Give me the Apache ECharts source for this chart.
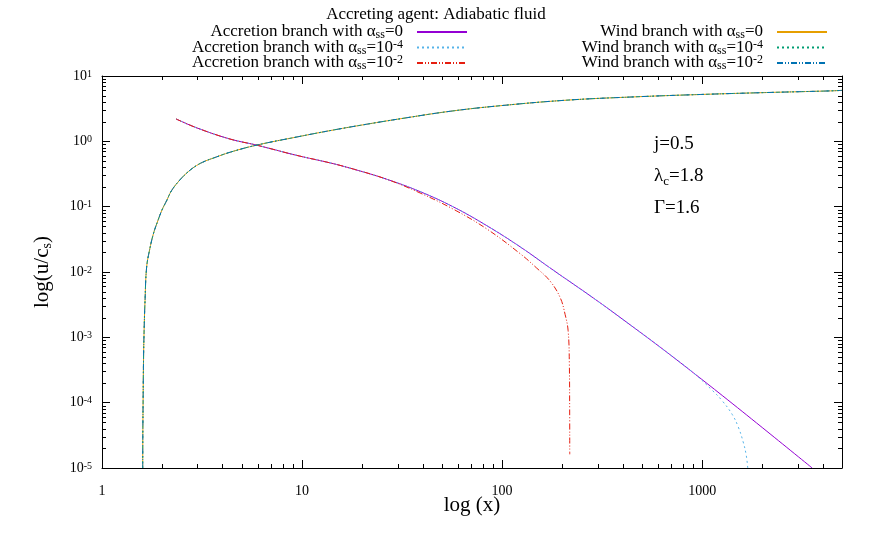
<!DOCTYPE html>
<html>
<head>
<meta charset="utf-8">
<script src="https://cdn.jsdelivr.net/npm/echarts@6/dist/echarts.min.js"></script>
<style>
html, body { margin: 0; padding: 0; background: #fff; }
#chart { width: 872px; height: 545px; }
</style>
</head>
<body>
<div id="chart"></div>
<script>
// x = radial distance, u/cs = Mach number (both)
const accX0 = [2.344, 2.972, 4.365, 5.929, 9.397, 13.80, 18.07, 26.49, 38.90, 57.15, 83.75, 123.0, 180.7, 286.4, 419.8, 616.6, 905.7, 1259, 1995, 3548]
const accU0 = [2.203, 1.611, 1.084, 0.875, 0.610, 0.468, 0.376, 0.263, 0.170, 0.0989, 0.0513, 0.0243, 0.0106, 0.00398, 0.001698, 0.000708, 0.000285, 0.000129, 0.0000417, 0.00001]

const accX4 = [2.344, 2.972, 4.365, 5.929, 9.397, 13.80, 18.07, 26.49, 38.90, 57.15, 83.75, 123.0, 180.7, 286.4, 419.8, 616.6, 905.7, 1122, 1259, 1413, 1514, 1603, 1660, 1690]
const accU4 = [2.203, 1.611, 1.084, 0.875, 0.610, 0.468, 0.376, 0.263, 0.170, 0.0989, 0.0513, 0.0243, 0.0106, 0.00398, 0.001698, 0.000708, 0.000285, 0.000155, 0.000107, 0.0000661, 0.0000427, 0.0000251, 0.0000158, 0.00001]

const accX2 = [2.344, 2.972, 4.365, 5.929, 9.397, 13.80, 18.07, 26.49, 38.90, 57.15, 83.75, 123.0, 148.9, 173.8, 195.0, 206.5, 213.8, 216.8, 217.6, 217.8]
const accU2 = [2.203, 1.611, 1.084, 0.875, 0.610, 0.468, 0.376, 0.263, 0.162, 0.0912, 0.0457, 0.0191, 0.01148, 0.00724, 0.00407, 0.00224, 0.00126, 0.000398, 0.0000794, 0.0000162]

// the three wind branches lie on top of each other
const windX = [1.598, 1.600, 1.605, 1.611, 1.622, 1.641, 1.671, 1.730, 1.807, 1.905, 1.995, 2.107, 2.228, 2.455, 2.704, 2.972, 3.273, 3.606, 4.365, 5.929, 9.397, 13.80, 19.95, 30.90, 54.95, 97.72, 210.4, 453.9, 977.2, 2104, 4365, 5000]
const windU = [0.00001, 0.0000331, 0.000107, 0.000347, 0.00112, 0.00363, 0.01175, 0.0219, 0.0384, 0.0617, 0.0891, 0.1245, 0.1766, 0.258, 0.345, 0.427, 0.497, 0.555, 0.681, 0.875, 1.164, 1.459, 1.778, 2.213, 2.884, 3.508, 4.266, 4.786, 5.212, 5.585, 5.916, 6.026]

const xTickValues = [1, 10, 100, 1000]
const xTickLabels = ['1', '10', '100', '1000']
const yTickExps = [-5, -4, -3, -2, -1, 0, 1]

const FONT = '"Liberation Serif", "DejaVu Serif", serif'

const seriesDefs = [
  { name: 'acc0', x: accX0, y: accU0, color: '#9400d3', dash: 'solid', label: 'Accretion branch with α{sub|ss}=0' },
  { name: 'acc4', x: accX4, y: accU4, color: '#56b4e9', dash: [2, 3], label: 'Accretion branch with α{sub|ss}=10{sup|-4}' },
  { name: 'acc2', x: accX2, y: accU2, color: '#e51e10', dash: [6, 2, 1, 2, 1, 2], label: 'Accretion branch with α{sub|ss}=10{sup|-2}' },
  { name: 'wind0', x: windX, y: windU, color: '#e69f00', dash: 'solid', label: 'Wind branch with α{sub|ss}=0' },
  { name: 'wind4', x: windX, y: windU, color: '#009e73', dash: [2, 3], label: 'Wind branch with α{sub|ss}=10{sup|-4}' },
  { name: 'wind2', x: windX, y: windU, color: '#0072b2', dash: [6, 2, 1, 2, 1, 2], label: 'Wind branch with α{sub|ss}=10{sup|-2}' }
]
const labelOf = {}
seriesDefs.forEach(d => { labelOf[d.name] = d.label })

const tickRich = {
  sup: { fontFamily: FONT, fontSize: 10, color: '#000', verticalAlign: 'top', lineHeight: 10 }
}
const legendRich = {
  sub: { fontFamily: FONT, fontSize: 12, color: '#000', verticalAlign: 'bottom', lineHeight: 12 },
  sup: { fontFamily: FONT, fontSize: 12, color: '#000', verticalAlign: 'top', lineHeight: 12 },
  gap: { width: 9 }
}

// minor ticks 2..9 per decade (log axes here only get the decade ticks)
const xMinor = []
for (let d = 1; d < 5000; d *= 10) {
  for (let m = 2; m <= 9; m++) if (d * m < 5000) xMinor.push([d * m, 1])
}
const yMinor = []
for (let e = -5; e < 1; e++) {
  for (let m = 2; m <= 9; m++) yMinor.push([2, m * Math.pow(10, e)])
}

function tickSeries (data, isX) {
  return {
    type: 'custom',
    silent: true,
    data: data,
    renderItem: function (params, api) {
      const cs = params.coordSys
      const p = api.coord([api.value(0), api.value(1)])
      const st = { stroke: '#000', lineWidth: 1 }
      const len = 4
      if (isX) {
        const x = Math.round(p[0]) + 0.5
        return { type: 'group', children: [
          { type: 'line', shape: { x1: x, y1: cs.y + cs.height, x2: x, y2: cs.y + cs.height - len }, style: st },
          { type: 'line', shape: { x1: x, y1: cs.y, x2: x, y2: cs.y + len }, style: st }
        ] }
      }
      const y = Math.round(p[1]) + 0.5
      return { type: 'group', children: [
        { type: 'line', shape: { x1: cs.x, y1: y, x2: cs.x + len, y2: y }, style: st },
        { type: 'line', shape: { x1: cs.x + cs.width, y1: y, x2: cs.x + cs.width - len, y2: y }, style: st }
      ] }
    }
  }
}

function isDecade (v) {
  return Math.abs(Math.log10(v) - Math.round(Math.log10(v))) < 1e-6
}

const axisLine = { show: true, onZero: false, lineStyle: { color: '#000', width: 1 } }
const axisTick = { show: true, inside: true, length: 8, lineStyle: { color: '#000', width: 1 } }
const tickFont = { color: '#000', fontFamily: FONT, fontSize: 14, rich: tickRich }

function legendDef (names, right) {
  return {
    data: names,
    orient: 'vertical',
    align: 'right',
    right: right,
    top: 23,
    padding: 0,
    itemWidth: 50,
    itemHeight: 12,
    itemGap: -2.5,
    selectedMode: false,
    itemStyle: { color: 'transparent', borderColor: 'transparent', borderWidth: 0, opacity: 0 },
    formatter: name => labelOf[name] + '{gap|}',
    textStyle: { color: '#000', fontFamily: FONT, fontSize: 17, lineHeight: 18, rich: legendRich }
  }
}

const chart = echarts.init(document.getElementById('chart'))
chart.setOption({
  animation: false,
  backgroundColor: '#fff',
  title: {
    text: 'Accreting agent: Adiabatic fluid',
    left: 'center',
    top: 6,
    padding: 0,
    textStyle: { color: '#000', fontFamily: FONT, fontSize: 17, fontWeight: 'normal' }
  },
  legend: [
    legendDef(['acc0', 'acc4', 'acc2'], 404),
    legendDef(['wind0', 'wind4', 'wind2'], 44)
  ],
  grid: { left: 102, right: 30, top: 76, bottom: 77, containLabel: false, outerBoundsMode: 'none' },
  xAxis: [
    {
      type: 'log', logBase: 10, min: 1, max: 5000, position: 'bottom',
      axisLine, axisTick,
      splitLine: { show: false },
      axisLabel: {
        ...tickFont, margin: 16,
        formatter: v => {
          const i = xTickValues.findIndex(t => Math.abs(t - v) < 1e-6 * t)
          return i >= 0 ? xTickLabels[i] : ''
        }
      },
      name: 'log (x)', nameLocation: 'middle', nameGap: 27, nameMoveOverlap: false,
      nameTextStyle: { color: '#000', fontFamily: FONT, fontSize: 21 }
    },
    {
      type: 'log', logBase: 10, min: 1, max: 5000, position: 'top',
      axisLine, axisTick, splitLine: { show: false }, axisLabel: { show: false }
    }
  ],
  yAxis: [
    {
      type: 'log', logBase: 10, min: 1e-5, max: 10, position: 'left',
      axisLine, axisTick,
      splitLine: { show: false },
      axisLabel: {
        ...tickFont, margin: 10,
        formatter: v => {
          if (!isDecade(v)) return ''
          const e = Math.round(Math.log10(v))
          return yTickExps.indexOf(e) >= 0 ? '10{sup|' + e + '}' : ''
        }
      },
      name: 'log(u/c{sub|s})', nameLocation: 'middle', nameGap: 48, nameMoveOverlap: false,
      nameTextStyle: { color: '#000', fontFamily: FONT, fontSize: 21, lineHeight: 24,
        rich: { sub: { fontFamily: FONT, fontSize: 14, color: '#000', verticalAlign: 'bottom', lineHeight: 14 } } }
    },
    {
      type: 'log', logBase: 10, min: 1e-5, max: 10, position: 'right',
      axisLine, axisTick, splitLine: { show: false }, axisLabel: { show: false }
    }
  ],
  graphic: [
    { type: 'text', left: 654, top: 135, style: { text: 'j=0.5', fill: '#000', fontFamily: FONT, fontSize: 19 } },
    { type: 'text', left: 654, top: 164, style: { text: 'λ{sub|c}=1.8', fill: '#000', fontFamily: FONT, fontSize: 19, lineHeight: 24,
      rich: { sub: { fontFamily: FONT, fontSize: 13, fill: '#000', verticalAlign: 'bottom', lineHeight: 14 } } } },
    { type: 'text', left: 654, top: 199, style: { text: 'Γ=1.6', fill: '#000', fontFamily: FONT, fontSize: 19 } }
  ],
  series: [
    tickSeries(xMinor, true),
    tickSeries(yMinor, false)
  ].concat(seriesDefs.map(d => ({
    name: d.name,
    type: 'line',
    data: d.x.map((x, i) => [x, d.y[i]]),
    symbol: 'none',
    showSymbol: false,
    smooth: 0.4,
    clip: true,
    lineStyle: { color: d.color, width: 1, type: d.dash },
    itemStyle: { color: d.color }
  })))
})
</script>
</body>
</html>
